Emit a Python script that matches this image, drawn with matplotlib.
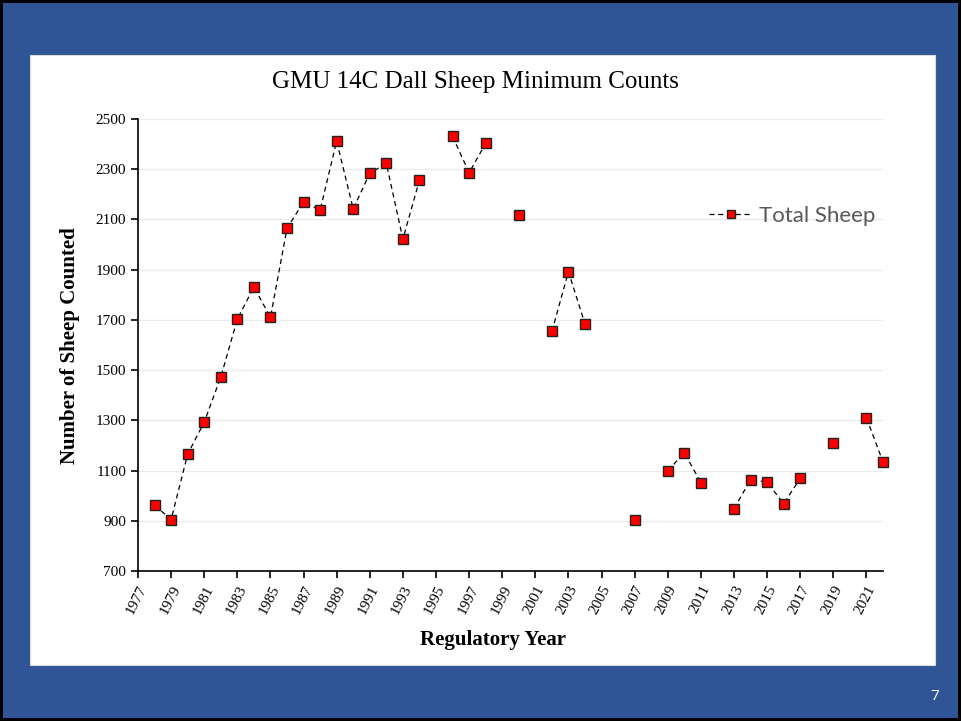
import matplotlib.pyplot as plt
from matplotlib.patches import Rectangle
import numpy as np

# survey years and minimum counts (None = no survey)
years = list(range(1978, 2023))
counts = [962, 905, 1165, 1293, 1472, 1703, 1831, 1710, 2064, 2170,
          2137, 2412, 2142, 2284, 2323, 2022, 2256, None, 2431, 2286,
          2403, None, 2119, None, 1654, 1892, 1684, None, None, 904,
          None, 1099, 1171, 1052, None, 948, 1064, 1054, 968, 1069,
          None, 1208, None, 1310, 1134]
x_ticks = list(range(1977, 2022, 2))
y_ticks = list(range(700, 2501, 200))

W, H = 961, 721
fig = plt.figure(figsize=(W / 100, H / 100), dpi=100)
fig.patch.set_facecolor("black")

# slide background and white chart panel
fig.patches.append(Rectangle((3 / W, 3 / H), 955 / W, 715 / H, transform=fig.transFigure,
                             facecolor="#2F5597", edgecolor="none", zorder=-2))
fig.patches.append(Rectangle((30 / W, 1 - 665 / H), 905 / W, 610 / H, transform=fig.transFigure,
                             facecolor="white", edgecolor="#D9D9D9", lw=0.8, zorder=-1))

ax = fig.add_axes([138 / W, 1 - 571 / H, 745 / W, 452 / H])
ax.set_facecolor("none")

y = np.array([np.nan if c is None else c for c in counts], dtype=float)
ax.plot(years, y, linestyle=(0, (4, 3)), color="black", lw=0.9,
        marker="s", markersize=7.4, markerfacecolor="#FF0000",
        markeredgecolor="#222222", markeredgewidth=1.0,
        label="Total Sheep", clip_on=False, zorder=3)

ax.set_xlim(1977, 2022)
ax.set_ylim(700, 2500)
ax.set_xticks(x_ticks)
ax.set_yticks(y_ticks)
ax.grid(axis="y", color="#EBEBEB", lw=1)
ax.set_axisbelow(True)

for s in ["top", "right"]:
    ax.spines[s].set_visible(False)
for s in ["left", "bottom"]:
    ax.spines[s].set_linewidth(1.2)

serif = "Liberation Serif"
ax.tick_params(axis="both", direction="out", length=5, width=1.2, labelsize=11)
for lab in ax.get_yticklabels():
    lab.set_fontfamily(serif)
for lab in ax.get_xticklabels():
    lab.set_fontfamily(serif)
    lab.set_rotation(63)
    lab.set_ha("right")
    lab.set_rotation_mode("anchor")

fig.text(475 / W, 1 - 82 / H, "GMU 14C Dall Sheep Minimum Counts", family=serif,
         fontsize=18, ha="center", va="center")
fig.text(70 / W, 1 - 346 / H, "Number of Sheep Counted", family=serif, fontsize=15,
         fontweight="bold", rotation=90, ha="center", va="center")
fig.text(493 / W, 1 - 640 / H, "Regulatory Year", family=serif, fontsize=15,
         fontweight="bold", ha="center", va="center")
fig.text(935 / W, 1 - 697 / H, "7", color="white", family="Open Sans", fontsize=11,
         ha="center", va="center")

leg = ax.legend(loc="center left", bbox_to_anchor=(689 / W, 1 - 216 / H),
                bbox_transform=fig.transFigure, frameon=False, handlelength=1.95,
                handletextpad=0.28, markerscale=0.85,
                prop={"family": "Lato", "size": 16})
for t in leg.get_texts():
    t.set_color("#595959")

fig.savefig("out.png", dpi=100, facecolor=fig.get_facecolor())
